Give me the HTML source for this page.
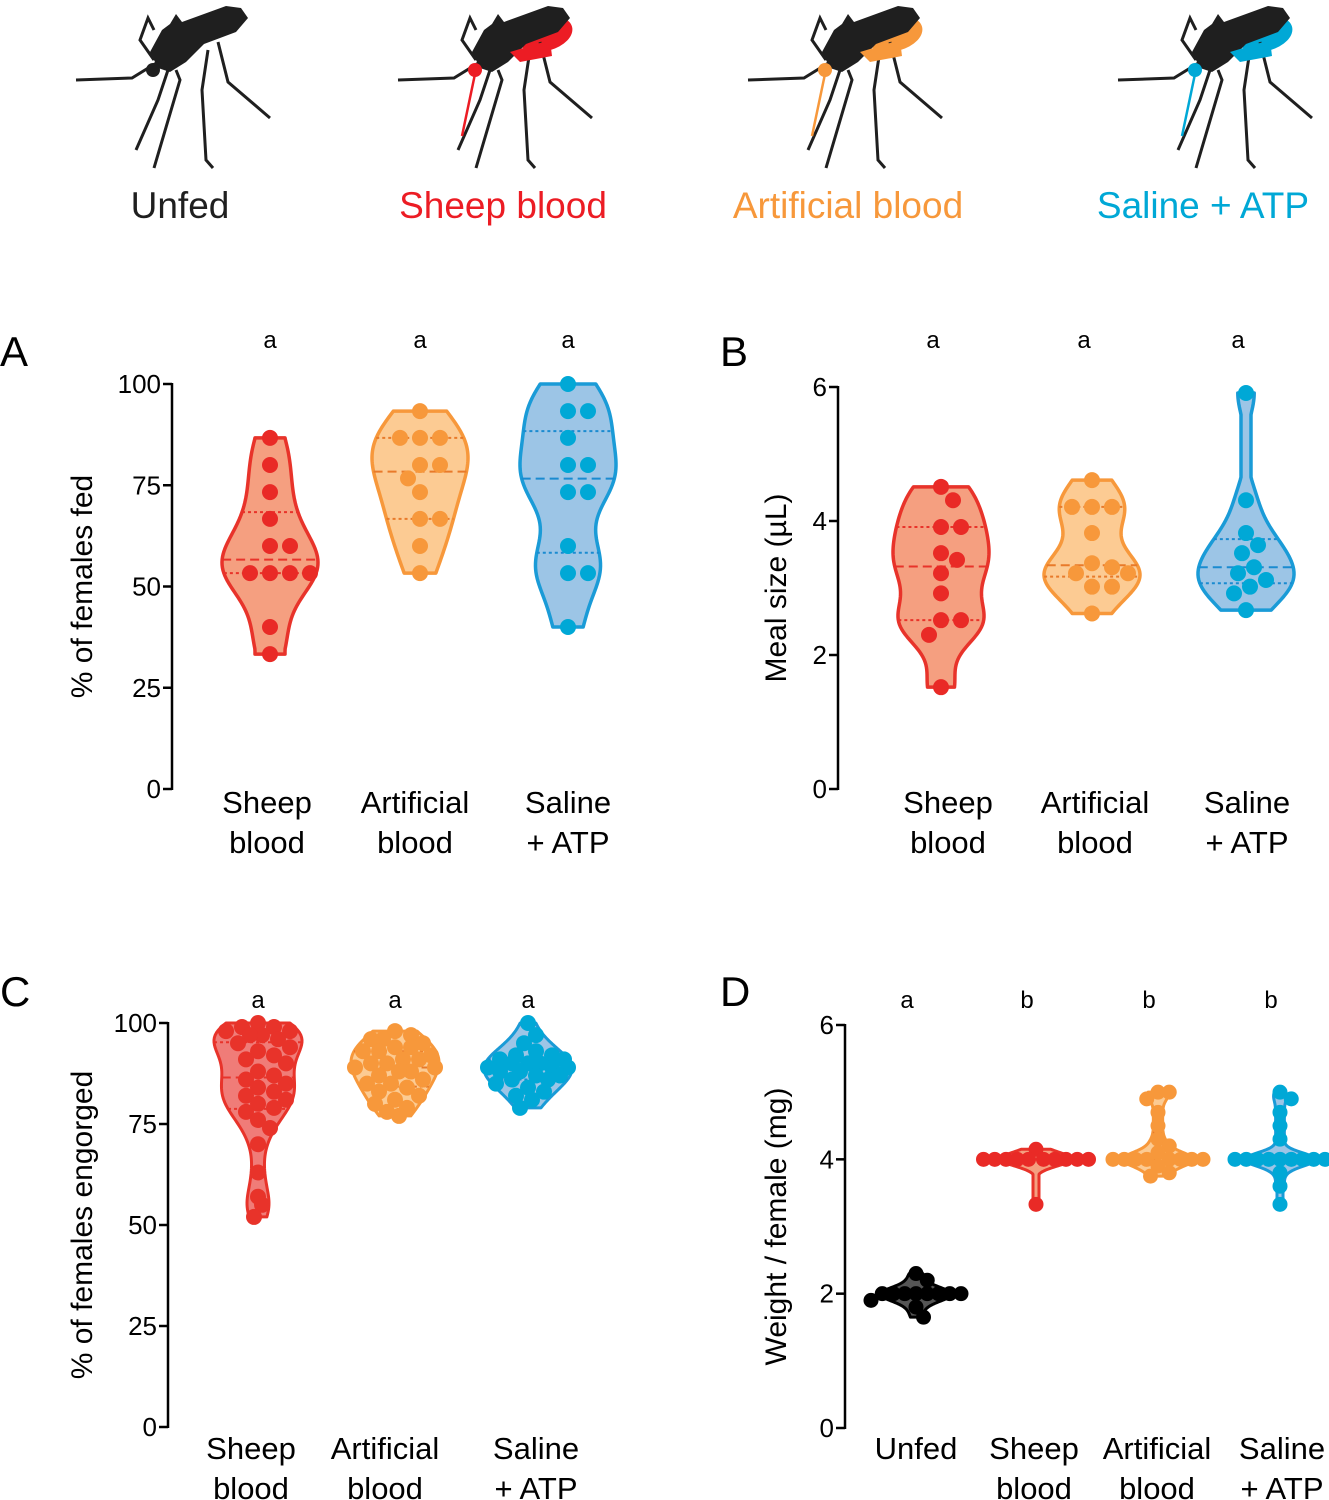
<!DOCTYPE html>
<html><head><meta charset="utf-8"><style>
body{margin:0;background:#fff;}
svg{display:block;font-family:"Liberation Sans",Arial,sans-serif;}
</style></head><body>
<svg id="fig" width="1329" height="1500" viewBox="0 0 1329 1500" xmlns="http://www.w3.org/2000/svg">
<defs>
<g id="mosq">
  <path d="M92,52 L104,30 L112,24 L118,14 L124,22 L168,6 L183,8 L190,18 L178,32 L146,44 L128,62 L112,72 L100,68 Z" fill="#1f1f1f"/>
  <polyline points="96,60 82,40 90,18 96,30" fill="none" stroke="#1f1f1f" stroke-width="3"/>
  <polyline points="100,62 74,78 18,80" fill="none" stroke="#1f1f1f" stroke-width="3"/>
  <polyline points="110,70 100,100 78,150" fill="none" stroke="#1f1f1f" stroke-width="3"/>
  <polyline points="118,70 122,80 96,168" fill="none" stroke="#1f1f1f" stroke-width="3"/>
  <polyline points="150,50 144,90 148,160 155,168" fill="none" stroke="#1f1f1f" stroke-width="3"/>
  <polyline points="160,42 170,82 212,118" fill="none" stroke="#1f1f1f" stroke-width="3"/>
</g>
</defs>
<g id="icons"></g>
<text x="180" y="218" font-size="37" text-anchor="middle" fill="#1f1f1f">Unfed</text>
<text x="503" y="218" font-size="37" text-anchor="middle" fill="#ec1c24">Sheep blood</text>
<text x="848" y="218" font-size="37" text-anchor="middle" fill="#f7983b">Artificial blood</text>
<text x="1203" y="218" font-size="37" text-anchor="middle" fill="#00a8d6">Saline + ATP</text>
<text x="0" y="366" font-size="42">A</text>
<text x="720" y="366" font-size="42">B</text>
<text x="0" y="1006" font-size="42">C</text>
<text x="720" y="1006" font-size="42">D</text>
<g id="plots"></g>
</svg>
<script>
// ---- data ----
const catsABC = [["Sheep","blood"],["Artificial","blood"],["Saline","+ ATP"]];
const catsD = [["Unfed",""],["Sheep","blood"],["Artificial","blood"],["Saline","+ ATP"]];
const sigA = ["a","a","a"], sigB = ["a","a","a"], sigC = ["a","a","a"], sigD = ["a","b","b","b"];
const ticksA = [0,25,50,75,100], ticksB = [0,2,4,6], ticksC = [0,25,50,75,100], ticksD = [0,2,4,6];
const aSheep = [86.7,80,73.3,66.7,60,60,53.3,53.3,53.3,53.3,40,33.3];
const aArtificial = [93.3,86.7,86.7,86.7,80,80,76.7,73.3,66.7,66.7,60,53.3];
const aSaline = [100,93.3,93.3,86.7,80,80,73.3,73.3,60,53.3,53.3,40];
const bSheep = [4.51,4.31,3.91,3.91,3.52,3.42,3.22,2.92,2.52,2.52,2.3,1.52];
const bArtificial = [4.61,4.21,4.21,4.21,3.82,3.37,3.31,3.22,3.22,3.02,3.02,2.62];
const bSaline = [5.91,4.31,3.82,3.64,3.52,3.31,3.22,3.12,3.02,2.92,2.67];
const cSheep = [100,99,99,98,98,97,97,96,95,94,93,92,91,90,88,87,86,85,84,83,82,81,80,79,78,76,74,70,63,57,55,52];
const cArtificial = [98,97,96,96,95,94,94,93,93,92,91,91,90,90,89,89,88,88,87,86,85,85,84,83,82,81,80,79,78,77];
const cSaline = [100,97,95,93,92,92,91,91,90,90,90,89,89,89,88,88,87,87,86,86,85,84,83,82,81,79];
const dUnfed = [2.3,2.2,2.0,2.0,2.0,2.0,2.0,2.0,2.0,2.0,1.9,1.8,1.65];
const dSheep = [4.15,4.0,4.0,4.0,4.0,4.0,4.0,4.0,4.0,4.0,4.0,3.33];
const dArtificial = [5.0,5.0,4.9,4.7,4.5,4.3,4.2,4.1,4.0,4.0,4.0,4.0,4.0,4.0,4.0,4.0,3.9,3.8,3.75];
const dSaline = [5.0,4.9,4.7,4.5,4.3,4.0,4.0,4.0,4.0,4.0,4.0,4.0,4.0,4.0,4.0,3.8,3.6,3.33];

const NS="http://www.w3.org/2000/svg";
function mk(tag,attrs,parent){const e=document.createElementNS(NS,tag);for(const k in attrs)e.setAttribute(k,attrs[k]);parent.appendChild(e);return e;}
const plots=document.getElementById('plots');
const COL={
 red:{stroke:"#e8332a",fill:"#f59f80",pt:"#e92a26",line:"#e8332a"},
 redC:{stroke:"#e8332a",fill:"#f07c78",pt:"#e8332a",line:"#e8332a"},
 orange:{stroke:"#f7983b",fill:"#fccb93",pt:"#f7983b",line:"#e87a2a"},
 blue:{stroke:"#1a9bd7",fill:"#9cc5e6",pt:"#00a8d6",line:"#1a8bd0"},
 black:{stroke:"#000",fill:"#555",pt:"#000",line:"#000"}
};
const icons=document.getElementById('icons');
[[58,null],[380,"#ec1c24"],[730,"#f7983b"],[1100,"#00a8d6"]].forEach((d,i)=>{
  const g=mk('g',{transform:`translate(${d[0]},0)`},icons);
  
  
  if(d[1]) mk('ellipse',{cx:165,cy:34,rx:28,ry:17,fill:d[1],transform:'rotate(-15 165 34)'},g);
  mk('use',{href:'#mosq'},g);
  if(d[1]){mk('path',{d:"M130,52 L170,40 L172,56 L140,62 Z",fill:d[1]},g);}
  const hc=d[1]||'#1f1f1f';
  mk('circle',{cx:95,cy:70,r:7,fill:hc},g);
  if(d[1]) mk('line',{x1:95,y1:74,x2:82,y2:136,stroke:hc,'stroke-width':2.5},g);
});
function quant(a,q){const s=[...a].sort((x,y)=>x-y);const p=(s.length-1)*q;const l=Math.floor(p),h=Math.ceil(p);return s[l]+(s[h]-s[l])*(p-l);}
function panel(o){
  const g=mk('g',{},plots);
  
  
  const Y=v=>o.y0-(v-0)*(o.y0-o.yTop)/o.max;
  const ax=mk('line',{x1:o.ax,y1:Y(o.max)-1,x2:o.ax,y2:Y(0)+1,stroke:'#000','stroke-width':2.5},g);
  
  
  o.ticks.forEach(t=>{
    mk('line',{x1:o.ax-9,y1:Y(t),x2:o.ax,y2:Y(t),stroke:'#000','stroke-width':2.5},g);
    const tl=mk('text',{x:o.ax-11,y:Y(t)+9,'font-size':26,'text-anchor':'end'},g);
    tl.textContent=t;
    
    
  });
  const tt=mk('text',{x:0,y:0,'font-size':30,'text-anchor':'middle',transform:`translate(${o.titleX},${(Y(0)+Y(o.max))/2}) rotate(-90)`},g);
  tt.textContent=o.title;
  
  
  o.groups.forEach((grp,i)=>{
    const cx=o.xs[i], c=COL[grp.c], vals=grp.v;
    const gg=mk('g',{},g);
    
    
    const mn=Math.min(...vals),mx=Math.max(...vals);
    const N=80,pts=[];let md=0;
    for(let k=0;k<=N;k++){const v=mn+(mx-mn)*k/N;let d=0;vals.forEach(x=>d+=Math.exp(-0.5*((v-x)/o.bw)**2));pts.push([v,d]);md=Math.max(md,d);}
    const hw=d=>Math.max(o.minW,d/md*o.W);
    let p='M'+pts.map(q=>`${cx-hw(q[1])},${Y(q[0])}`).join(' L')+' L'+pts.slice().reverse().map(q=>`${cx+hw(q[1])},${Y(q[0])}`).join(' L')+'Z';
    mk('path',{d:p,fill:c.fill,stroke:c.stroke,'stroke-width':o.sw,'stroke-linejoin':'round'},gg);
    const wAt=v=>{let d=0;vals.forEach(x=>d+=Math.exp(-0.5*((v-x)/o.bw)**2));return hw(d);};
    [[0.25,'3,3'],[0.5,'9,5'],[0.75,'3,3']].forEach(q=>{const v=quant(vals,q[0]);const w=wAt(v);
      mk('line',{x1:cx-w,x2:cx+w,y1:Y(v),y2:Y(v),stroke:c.line,'stroke-width':2,'stroke-dasharray':q[1]},gg);});
    const placed=[];const D=o.r*2*o.pack;
    vals.forEach(v=>{const y=Y(v);
      const lim=o.clamp?Math.max(0,wAt(v)-o.r*0.4):1e9;
      let best=null,bestD=-1,found=false;
      for(let k=0;k<200;k++){const off=(k===0?0:Math.ceil(k/2)*(k%2?1:-1))*o.r*0.5;
        if(Math.abs(off)>lim){if(Math.abs(off)>lim+o.r)break;continue;}
        const x=cx+off;
        const dmin=placed.length?Math.min(...placed.map(p=>Math.hypot(p[0]-x,p[1]-y))):1e9;
        if(dmin>=D){best=x;found=true;break;}
        if(dmin>bestD){bestD=dmin;best=x;}
      }
      if(best===null)best=cx;
      placed.push([best,y]);
      const c1=mk('circle',{cx:best,cy:y,r:o.r,fill:c.pt},gg);
      
      
    });
    const s=mk('text',{x:cx+o.sigDx,y:o.sigY,'font-size':24,'text-anchor':'middle'},g);
    s.textContent=o.sig[i];
    
    
    o.cats[i].forEach((ln,j)=>{if(!ln)return;const t=mk('text',{x:o.lx[i],y:o.catY+40*j,'font-size':31,'text-anchor':'middle'},g);t.textContent=ln;
      
      });
  });
}
panel({name:'panel-a',ax:172,y0:789,yTop:384,max:100,ticks:ticksA,title:'% of females fed',titleX:92,
  xs:[270,420,568],lx:[267,415,568],cats:catsABC,sig:sigA,sigY:348,sigDx:0,catY:813,W:48,minW:15,bw:7,r:8,pack:1.05,sw:3.5,
  groups:[{v:aSheep,c:'red'},{v:aArtificial,c:'orange'},{v:aSaline,c:'blue'}]});
panel({name:'panel-b',ax:838,y0:789,yTop:387,max:6,ticks:ticksB,title:'Meal size (µL)',titleX:786,
  xs:[941,1092,1246],lx:[948,1095,1247],cats:catsABC,sig:sigB,sigY:348,sigDx:-8,catY:813,W:48,minW:5,bw:0.32,r:8,pack:1.05,sw:3.5,
  groups:[{v:bSheep,c:'red'},{v:bArtificial,c:'orange'},{v:bSaline,c:'blue'}]});
panel({name:'panel-c',ax:168,y0:1427,yTop:1023,max:100,ticks:ticksC,title:'% of females engorged',titleX:92,
  xs:[258,395,528],lx:[251,385,536],cats:catsABC,sig:sigC,sigY:1008,sigDx:0,catY:1459,W:44,minW:6,bw:4,r:8,pack:0.9,sw:3,clamp:true,
  groups:[{v:cSheep,c:'redC'},{v:cArtificial,c:'orange'},{v:cSaline,c:'blue'}]});
panel({name:'panel-d',ax:845,y0:1428,yTop:1025,max:6,ticks:ticksD,title:'Weight / female (mg)',titleX:786,
  xs:[916,1036,1158,1280],lx:[916,1034,1157,1282],cats:catsD,sig:sigD,sigY:1008,sigDx:-9,catY:1459,W:36,minW:3,bw:0.1,r:7.5,pack:0.75,sw:3,
  groups:[{v:dUnfed,c:'black'},{v:dSheep,c:'red'},{v:dArtificial,c:'orange'},{v:dSaline,c:'blue'}]});
</script>
</body></html>
